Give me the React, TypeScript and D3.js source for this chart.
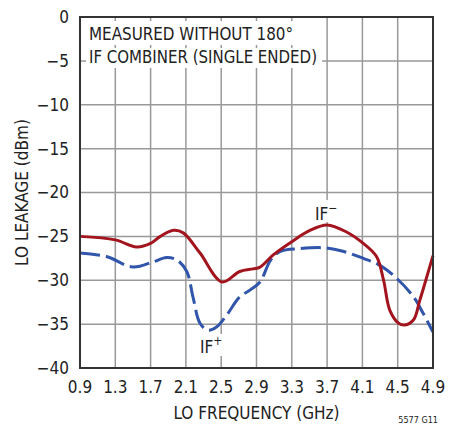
import React from "react";
import * as d3 from "d3";

// LO leakage vs LO frequency, measured single ended (no 180° IF combiner)
const freqTicks = [0.9, 1.3, 1.7, 2.1, 2.5, 2.9, 3.3, 3.7, 4.1, 4.5, 4.9];
const leakTicks = [0, -5, -10, -15, -20, -25, -30, -35, -40];

// IF− output (solid red)
const ifMinusFreq = [0.9, 1.3, 1.54, 1.7, 1.81, 1.96, 2.07, 2.26, 2.51, 2.71, 2.86, 2.94, 3.09, 3.3, 3.51, 3.7, 3.92, 4.11, 4.26, 4.34, 4.41, 4.51, 4.58, 4.68, 4.75, 4.83, 4.9];
const ifMinusLeak = [-25.0, -25.4, -26.2, -25.8, -25.0, -24.3, -24.6, -26.9, -30.2, -29.0, -28.7, -28.5, -27.1, -25.6, -24.3, -23.7, -24.5, -25.8, -27.3, -30.0, -33.4, -34.9, -35.1, -34.5, -32.3, -29.6, -27.2];

// IF+ output (dashed blue)
const ifPlusFreq = [0.9, 1.2, 1.5, 1.73, 1.88, 2.0, 2.11, 2.18, 2.26, 2.35, 2.45, 2.56, 2.71, 2.83, 2.94, 3.06, 3.17, 3.39, 3.66, 3.88, 4.11, 4.3, 4.49, 4.68, 4.79, 4.9];
const ifPlusLeak = [-26.9, -27.3, -28.5, -27.9, -27.4, -27.7, -29.0, -31.9, -34.9, -35.7, -35.3, -34.0, -31.9, -31.1, -30.2, -27.7, -26.7, -26.4, -26.3, -26.7, -27.5, -28.3, -29.8, -31.9, -33.8, -35.9];

const FONT = "'Liberation Sans Narrow', 'DejaVu Sans Condensed', 'Arial Narrow', sans-serif";

export default function App() {
  const W = 461, H = 425;
  const left = 80, right = 433, top = 17, bottom = 368;

  const x = d3.scaleLinear().domain([0.9, 4.9]).range([left, right]);
  const y = d3.scaleLinear().domain([-40, 0]).range([bottom, top]);

  const line = d3
    .line<[number, number]>()
    .x((d) => x(d[0]))
    .y((d) => y(d[1]))
    .curve(d3.curveCatmullRom.alpha(0.5));

  const redPts = ifMinusFreq.map((f, i) => [f, ifMinusLeak[i]] as [number, number]);
  const bluePts = ifPlusFreq.map((f, i) => [f, ifPlusLeak[i]] as [number, number]);

  const gridColor = "#999";
  const textColor = "#222";
  const fs = 17;

  return (
    <svg width={W} height={H} style={{ position: "absolute", left: 0, top: 0, background: "#fff" }} fontFamily={FONT}>
      {/* grid */}
      {freqTicks.slice(1, -1).map((f) => (
        <line key={"v" + f} x1={x(f)} x2={x(f)} y1={top} y2={bottom} stroke={gridColor} strokeWidth={1.5} />
      ))}
      {leakTicks.slice(1, -1).map((v) => (
        <line key={"h" + v} x1={left} x2={right} y1={y(v)} y2={y(v)} stroke={gridColor} strokeWidth={1.5} />
      ))}

      {/* note text with white backing */}
      <rect x={86} y={21} width={212} height={24} fill="#fff" />
      <rect x={86} y={48} width={236} height={20} fill="#fff" />
      <text x={89} y={40} fontSize={fs} fill={textColor} textLength={204} lengthAdjust="spacingAndGlyphs">MEASURED WITHOUT 180°</text>
      <text x={89} y={63} fontSize={fs} fill={textColor} textLength={228} lengthAdjust="spacingAndGlyphs">IF COMBINER (SINGLE ENDED)</text>

      {/* curve labels with white backing */}
      <rect x={312} y={200} width={30} height={22} fill="#fff" />
      <text x={315} y={220} fontSize={fs} fill={textColor}>
        IF<tspan dy={-8} fontSize={12}>−</tspan>
      </text>
      <rect x={197} y={334} width={28} height={22} fill="#fff" />
      <text x={200} y={353} fontSize={fs} fill={textColor}>
        IF<tspan dy={-8} fontSize={12}>+</tspan>
      </text>

      {/* curves */}
      <path d={line(bluePts) || ""} fill="none" stroke="#3155ab" strokeWidth={3} strokeDasharray="20 6" />
      <path d={line(redPts) || ""} fill="none" stroke="#a3151e" strokeWidth={3} />

      {/* frame */}
      <rect x={left} y={top} width={right - left} height={bottom - top} fill="none" stroke="#333" strokeWidth={2} />

      {/* y ticks */}
      {leakTicks.map((v) => (
        <text key={"yl" + v} x={69} y={y(v)} dy="0.35em" fontSize={fs} textAnchor="end" fill={textColor}>
          {v === 0 ? "0" : "\u2212" + Math.abs(v)}
        </text>
      ))}
      {/* x ticks */}
      {freqTicks.map((f) => (
        <text key={"xl" + f} x={x(f)} y={393} fontSize={fs} textAnchor="middle" fill={textColor}>
          {f.toFixed(1)}
        </text>
      ))}

      {/* axis titles */}
      <text x={(left + right) / 2} y={419} fontSize={fs} textAnchor="middle" fill={textColor}>
        LO FREQUENCY (GHz)
      </text>
      <text transform={`translate(28, ${(top + bottom) / 2}) rotate(-90)`} fontSize={fs} textAnchor="middle" fill={textColor}>
        LO LEAKAGE (dBm)
      </text>

      <text x={438} y={423} fontSize={9} textAnchor="end" fill={textColor}>5577 G11</text>
    </svg>
  );
}
